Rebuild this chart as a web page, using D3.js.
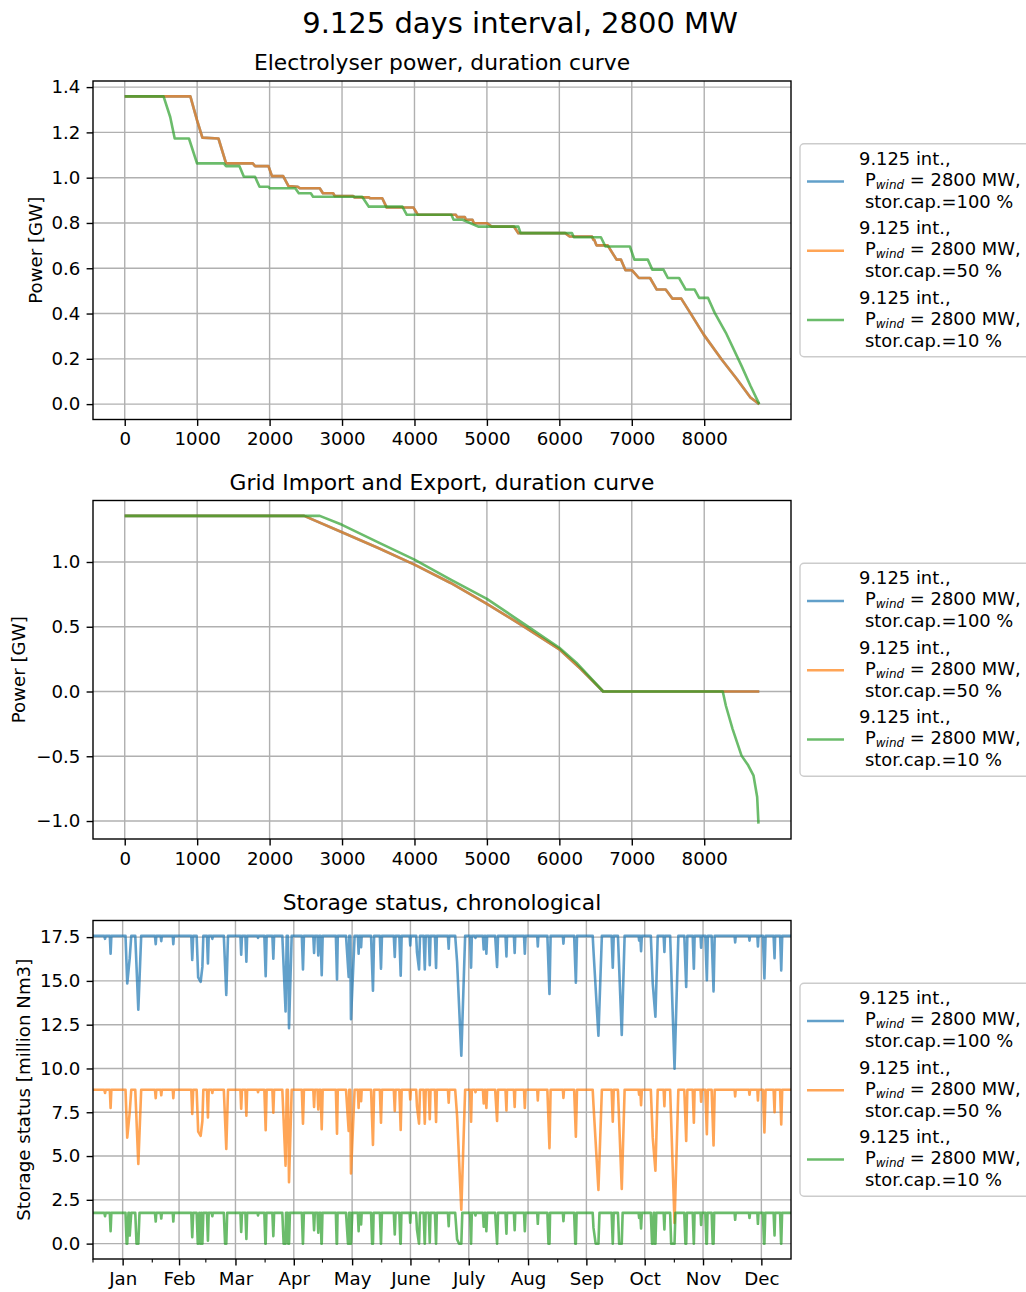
<!DOCTYPE html>
<html><head><meta charset="utf-8">
<script src="https://cdn.jsdelivr.net/npm/d3@7"></script>
<style>body{margin:0;background:#fff} text{font-family:"DejaVu Sans",sans-serif;fill:#000}</style>
</head><body><svg id="c" width="1026" height="1292" xmlns="http://www.w3.org/2000/svg"></svg>
<script>
// ---------------- data ----------------
const suptitle = "9.125 days interval, 2800 MW";
const panelTitles = ["Electrolyser power, duration curve","Grid Import and Export, duration curve","Storage status, chronological"];
const yLabels = ["Power [GW]","Power [GW]","Storage status [million Nm3]"];
const storCaps = ["100","50","10"];
const colors = ["#1f77b4","#ff7f0e","#2ca02c"];
const hourTicks = [0,1000,2000,3000,4000,5000,6000,7000,8000];
const hourExtent = [0,8760];
const elecTicks = [0,0.2,0.4,0.6,0.8,1.0,1.2,1.4];
const gridTicks = [-1.0,-0.5,0,0.5,1.0];
const storTicks = [0,2.5,5,7.5,10,12.5,15,17.5];
const monthLabels = ["Jan","Feb","Mar","Apr","May","June","July","Aug","Sep","Oct","Nov","Dec"];
const monthMidDays = [15.5,45,74.5,105,135.5,166,196.5,227.5,258,288.5,319,349.5];
const monthStartDays = [0,31,59,90,120,151,181,212,243,273,304,334];
const yearDays = [0,365];

// electrolyser power duration curves [hours, GW]
const elec50 = [[0,1.359],[906,1.359],[998,1.254],[1072,1.177],[1294,1.173],[1399,1.063],[1768,1.063],[1799,1.051],[1984,1.051],[2033,1.007],[2187,1.007],[2261,0.963],[2384,0.960],[2420,0.953],[2692,0.953],[2736,0.931],[2877,0.931],[2900,0.919],[3155,0.919],[3170,0.913],[3370,0.913],[3390,0.909],[3555,0.909],[3617,0.868],[3986,0.868],[4048,0.836],[4572,0.836],[4590,0.826],[4695,0.826],[4710,0.814],[4800,0.814],[4820,0.799],[5003,0.799],[5065,0.784],[5373,0.784],[5434,0.755],[6081,0.755],[6143,0.740],[6451,0.740],[6470,0.726],[6482,0.726],[6513,0.701],[6667,0.701],[6790,0.638],[6851,0.638],[6913,0.591],[7005,0.591],[7098,0.557],[7252,0.557],[7345,0.506],[7468,0.506],[7560,0.466],[7683,0.466],[7807,0.403],[7991,0.308],[8238,0.198],[8453,0.110],[8638,0.029],[8760,0]];
// 100 % storage: identical to 50 % (hidden underneath)
const elec100 = [[0,1.359],[906,1.359],[998,1.254],[1072,1.177],[1294,1.173],[1399,1.063],[1768,1.063],[1799,1.051],[1984,1.051],[2033,1.007],[2187,1.007],[2261,0.963],[2384,0.960],[2420,0.953],[2692,0.953],[2736,0.931],[2877,0.931],[2900,0.919],[3155,0.919],[3170,0.913],[3370,0.913],[3390,0.909],[3555,0.909],[3617,0.868],[3986,0.868],[4048,0.836],[4572,0.836],[4590,0.826],[4695,0.826],[4710,0.814],[4800,0.814],[4820,0.799],[5003,0.799],[5065,0.784],[5373,0.784],[5434,0.755],[6081,0.755],[6143,0.740],[6451,0.740],[6470,0.726],[6482,0.726],[6513,0.701],[6667,0.701],[6790,0.638],[6851,0.638],[6913,0.591],[7005,0.591],[7098,0.557],[7252,0.557],[7345,0.506],[7468,0.506],[7560,0.466],[7683,0.466],[7807,0.403],[7991,0.308],[8238,0.198],[8453,0.110],[8638,0.029],[8760,0]];
const elec10 = [[0,1.359],[536,1.359],[628,1.268],[690,1.173],[887,1.173],[998,1.063],[1368,1.063],[1399,1.051],[1584,1.051],[1645,1.004],[1799,1.004],[1861,0.960],[1984,0.960],[2000,0.953],[2354,0.953],[2403,0.931],[2569,0.931],[2600,0.916],[3278,0.916],[3370,0.872],[3833,0.872],[3894,0.836],[4510,0.836],[4540,0.814],[4664,0.814],[4880,0.784],[5434,0.784],[5465,0.755],[6174,0.755],[6200,0.737],[6574,0.737],[6636,0.696],[6974,0.696],[7036,0.638],[7221,0.638],[7283,0.594],[7437,0.594],[7498,0.557],[7653,0.557],[7745,0.506],[7868,0.506],[7930,0.469],[8053,0.469],[8145,0.403],[8299,0.315],[8515,0.169],[8638,0.081],[8760,0]];

// grid import/export duration curves [hours, GW]
const grid50 = [[0,1.356],[2477,1.356],[3000,1.23],[3500,1.108],[4000,0.98],[4500,0.838],[5000,0.677],[5500,0.505],[6000,0.326],[6300,0.172],[6605,0],[8760,0]];
const grid100 = [[0,1.356],[2477,1.356],[3000,1.23],[3500,1.108],[4000,0.98],[4500,0.838],[5000,0.677],[5500,0.505],[6000,0.326],[6300,0.172],[6605,0],[8760,0]];
const grid10 = [[0,1.356],[2693,1.356],[3000,1.287],[3500,1.151],[4000,1.018],[4500,0.864],[5000,0.715],[5558,0.505],[6000,0.338],[6235,0.223],[6605,0],[8256,0],[8299,-0.11],[8392,-0.29],[8515,-0.495],[8607,-0.57],[8681,-0.65],[8731,-0.815],[8749,-1.02]];

// storage: full level of each series [million Nm3]
const storFull = [17.57, 8.785, 1.757];
// storage dips: [day of minimum, days falling, days rising, min 100 %, min 50 %, min 10 %]
const storDips = [
[6.3,0.4,0.3,17.4,8.6,1.56],[9.2,0.4,0.4,16.55,7.75,0.71],[17.9,0.9,1.0,14.85,6.05,0],[19.2,0.3,0.8,16.3,7.5,0.46],
[23.7,1.6,1.5,13.35,4.55,0],[32.8,0.4,0.3,17.1,8.3,1.26],[35.7,0.3,0.3,17.27,8.47,1.43],[42.0,0.3,0.3,17.1,8.3,1.26],
[51.9,0.5,0.5,16.2,7.4,0.36],[55.0,0.8,0.8,15.2,6.4,0],[56.3,0.6,0.5,14.95,6.15,0],[57.2,0.5,0.5,15.8,7.0,0],
[60.1,0.5,0.4,16.0,7.2,0.16],[62.4,0.3,0.3,17.4,8.6,1.56],[69.7,1.3,0.9,14.2,5.4,0],[77.5,0.4,0.4,16.5,7.7,0.66],
[80.2,0.5,0.4,16.1,7.3,0.26],[86.3,0.3,0.3,17.45,8.65,1.61],[90.3,0.7,0.5,15.27,6.47,0],[94.3,0.5,0.4,16.27,7.47,0.43],
[100.7,1.7,0.6,13.25,4.45,0],[102.5,0.6,1.4,12.3,3.5,0],[109.8,0.6,0.5,15.65,6.85,0],[115.6,0.4,0.4,16.6,7.8,0.76],
[117.8,0.4,0.4,16.46,7.66,0.62],[119.6,0.6,0.5,15.33,6.53,0],[127.6,0.6,0.4,15.08,6.28,0],[133.7,1.4,0.3,15.23,6.43,0],
[134.9,0.4,1.9,12.81,4.01,0],[138.9,0.4,0.3,16.55,7.75,0.71],[140.2,0.3,0.3,16.93,8.13,1.09],[146.4,1.0,0.6,14.44,5.64,0],
[150.6,0.6,0.5,15.7,6.9,0],[157.8,0.5,0.4,16.37,7.57,0.53],[160.9,0.7,0.5,15.29,6.49,0],[165.9,0.3,0.3,17.03,8.23,1.19],
[169.4,0.4,0.5,16.65,7.85,0.81],[170.5,0.7,0.5,15.65,6.85,0],[173.5,0.6,0.5,15.65,6.85,0],[176.1,0.5,0.4,15.9,7.1,0.06],
[179.4,0.6,0.4,15.74,6.94,0],[186.0,0.4,0.3,16.84,8.04,1.0],[190.4,1.0,0.6,16.08,7.28,0.24],[192.6,1.6,2.0,10.73,1.93,0],
[197.7,0.5,0.4,15.76,6.96,0],[200.0,0.3,0.3,17.45,8.65,1.61],[204.3,0.4,0.5,16.8,8.0,0.96],[205.7,0.5,0.4,16.55,7.75,0.71],
[211.3,1.0,0.5,15.8,7.0,0],[216.2,0.5,0.3,16.4,7.6,0.56],[220.5,0.4,0.3,16.6,7.8,0.76],[225.8,0.4,0.4,16.55,7.75,0.71],
[232.6,0.3,0.3,16.97,8.17,1.13],[238.7,1.1,0.6,14.25,5.45,0],[246.0,0.3,0.3,17.12,8.32,1.28],[252.5,0.9,0.6,14.9,6.1,0],
[261.7,0.4,0.5,16.75,7.95,0.91],[264.3,2.1,1.8,11.87,3.07,0],[271.8,0.6,0.5,15.76,6.96,0],[276.5,2.0,1.5,11.92,3.12,0],
[285.6,0.3,0.2,17.3,8.5,1.46],[286.6,0.4,0.4,16.7,7.9,0.86],[292.7,1.0,0.8,14.85,6.05,0],[294.1,0.6,1.2,12.96,4.16,0],
[298.8,0.4,0.3,16.65,7.85,0.81],[304.1,2.3,2.0,9.98,1.18,0],[310.2,1.0,0.6,14.66,5.86,0],[314.2,0.6,0.4,15.7,6.9,0],
[318.0,0.3,0.3,16.9,8.1,1.06],[321.0,0.8,0.5,15.04,6.24,0],[324.5,1.0,0.6,14.4,5.6,0],[335.8,0.3,0.3,17.2,8.4,1.36],
[343.3,0.3,0.3,17.3,8.5,1.46],[347.7,0.3,0.3,16.97,8.17,1.13],[351.1,0.8,0.6,15.14,6.34,0],[356.4,0.5,0.3,16.3,7.5,0.46],
[359.9,0.6,0.5,15.6,6.8,0]
];

// ---------------- drawing ----------------
const svg = d3.select("#c");
const L = 93, R = 791, PH = 338.5;
const panelTops = [81, 500.5, 920.5];
const FS = 18.2, LFS = 17.9, LW = 2.6, GRIDC = "#b0b0b0";

function padded(e){ const r = e[1]-e[0]; return [e[0]-0.05*r, e[1]+0.05*r]; }

function storageSeries(si){
  const full = storFull[si];
  const pts = [[yearDays[0], full]];
  let prevEnd = -Infinity;
  storDips.forEach(r => {
    const day = r[0], down = r[1], up = r[2], v = r[3+si];
    let seg;
    if (si === 2 && v === 0) {
      const f = storFull[2] / (storFull[0] - r[3]);
      seg = [[day-down, full],[day-down*(1-f), 0],[day, 0],[day+up*f, full]];
    } else {
      seg = [[day-down, full],[day, v],[day+up, full]];
    }
    if (seg[0][0] <= prevEnd) { pts.pop(); seg.shift(); }
    seg.forEach(p => pts.push(p));
    prevEnd = pts[pts.length-1][0];
  });
  pts.push([yearDays[1], full]);
  return pts;
}

svg.append("text").attr("x", 520).attr("y", 32.5).attr("text-anchor","middle")
  .style("font-size","29px").text(suptitle);

function drawPanel(pi, xDomain, yDomain, yTicks, series){
  const top = panelTops[pi], bottom = top + PH;
  const x = d3.scaleLinear().domain(xDomain).range([L, R]);
  const y = d3.scaleLinear().domain(yDomain).range([bottom, top]);
  const g = svg.append("g");
  const xt = pi < 2 ? hourTicks : monthMidDays;
  // grid
  g.selectAll(".gx").data(xt).join("line").attr("x1", d=>x(d)).attr("x2", d=>x(d))
    .attr("y1", top).attr("y2", bottom).attr("stroke", GRIDC).attr("stroke-width", 1.4);
  g.selectAll(".gy").data(yTicks).join("line").attr("y1", d=>y(d)).attr("y2", d=>y(d))
    .attr("x1", L).attr("x2", R).attr("stroke", GRIDC).attr("stroke-width", 1.4);
  // lines
  const line = d3.line().x(d=>x(d[0])).y(d=>y(d[1]));
  series.forEach((s,i) => {
    g.append("path").attr("d", line(s)).attr("fill","none").attr("stroke", colors[i])
      .attr("stroke-opacity", 0.7).attr("stroke-width", LW).attr("stroke-linejoin","round");
  });
  // axes
  const fmt = d3.format(".1f");
  let xAxis;
  if (pi < 2) {
    xAxis = d3.axisBottom(x).tickValues(hourTicks).tickFormat(d3.format("d"));
  } else {
    xAxis = d3.axisBottom(x).tickValues(monthMidDays).tickFormat((d,i)=>monthLabels[i]);
  }
  xAxis.tickSize(6.4).tickSizeOuter(0).tickPadding(6.2);
  const gx = g.append("g").attr("transform", `translate(0,${bottom})`).call(xAxis);
  const gy = g.append("g").attr("transform", `translate(${L},0)`)
    .call(d3.axisLeft(y).tickValues(yTicks).tickFormat(fmt).tickSize(6.4).tickSizeOuter(0).tickPadding(6.2));
  [gx, gy].forEach(a => {
    a.select(".domain").remove();
    a.selectAll(".tick line").attr("stroke","#000").attr("stroke-width",1.4);
    a.selectAll(".tick text").style("font-size", FS+"px").style("font-family","DejaVu Sans").attr("fill","#000");
  });
  if (pi === 2) {
    g.selectAll(".minor").data(monthStartDays).join("line").attr("x1", d=>x(d)).attr("x2", d=>x(d))
      .attr("y1", bottom).attr("y2", bottom+3.6).attr("stroke","#000").attr("stroke-width",1.1);
  }
  // frame
  g.append("rect").attr("x", L).attr("y", top).attr("width", R-L).attr("height", PH)
    .attr("fill","none").attr("stroke","#000").attr("stroke-width",1.4);
  // title
  g.append("text").attr("x", (L+R)/2).attr("y", top-11).attr("text-anchor","middle")
    .style("font-size","21.8px").text(panelTitles[pi]);
  // y label
  const ylx = [35.5, 18.5, 23][pi];
  g.append("text").attr("transform", `translate(${ylx},${top+PH/2}) rotate(-90)`)
    .attr("text-anchor","middle").attr("dominant-baseline","central")
    .style("font-size", FS+"px").text(yLabels[pi]);
  // legend
  const cy = top + PH/2;
  g.append("rect").attr("x", 800).attr("y", cy-106.5).attr("width", 260).attr("height", 213)
    .attr("rx", 4).attr("fill","#fff").attr("fill-opacity",0.8).attr("stroke","#cccccc").attr("stroke-width",1.4);
  colors.forEach((c,i) => {
    const hy = cy + (i-1)*69.3 + 0.5;
    g.append("line").attr("x1", 807).attr("x2", 844).attr("y1", hy).attr("y2", hy)
      .attr("stroke", c).attr("stroke-opacity",0.7).attr("stroke-width", LW);
    g.append("text").attr("x", 859).attr("y", hy-16.5).style("font-size", LFS+"px").text("9.125 int.,");
    const t2 = g.append("text").attr("x", 865).attr("y", hy+4.5).style("font-size", LFS+"px");
    t2.append("tspan").text("P");
    t2.append("tspan").attr("dy", 3).style("font-size","12px").style("font-style","italic").text("wind");
    t2.append("tspan").attr("dy", -3).attr("xml:space","preserve").text(" = 2800 MW,");
    g.append("text").attr("x", 865).attr("y", hy+26.5).style("font-size", LFS+"px").text(`stor.cap.=${storCaps[i]} %`);
  });
}

const elecAll = [elec100, elec50, elec10];
const gridAll = [grid100, grid50, grid10];
const storAll = [0,1,2].map(storageSeries);

drawPanel(0, padded(hourExtent), padded(d3.extent(elecAll.flat(), d=>d[1])), elecTicks, elecAll);
drawPanel(1, padded(hourExtent), padded(d3.extent(gridAll.flat(), d=>d[1])), gridTicks, gridAll);
drawPanel(2, yearDays, padded([0, storFull[0]]), storTicks, storAll);
</script></body></html>
